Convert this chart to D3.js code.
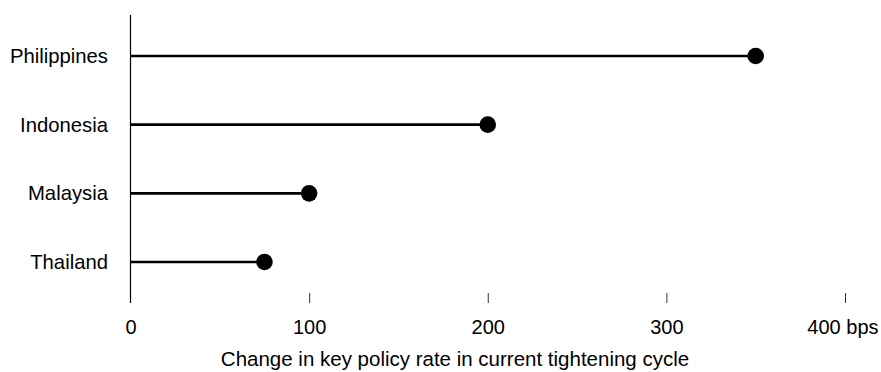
<!DOCTYPE html>
<html><head><meta charset="utf-8">
<script src="https://cdn.jsdelivr.net/npm/d3@7"></script>
<style>body{margin:0;background:#fff;}svg{display:block;font-family:"Liberation Sans",Arial,sans-serif;}</style>
</head><body>
<svg id="c" width="881" height="372"></svg>
<script>
const categories = ["Philippines","Indonesia","Malaysia","Thailand"];
const values = [350, 200, 100, 75];
const tickValues = [0, 100, 200, 300, 400];
const tickLabels = ["0","100","200","300","400 bps"];
const axisTitle = "Change in key policy rate in current tightening cycle";

const svg = d3.select("#c");
const x = d3.scaleLinear().domain([0,400]).range([130.5, 845]);
const y = d3.scalePoint().domain(categories).range([56, 262]);

// vertical baseline
svg.append("line").attr("x1", x(0)).attr("x2", x(0)).attr("y1", 15).attr("y2", 303)
  .attr("stroke", "#000").attr("stroke-width", 1.2);

// x ticks
const xAxis = d3.axisBottom(x).tickValues(tickValues).tickSize(10)
  .tickFormat((d,i) => tickLabels[i]).tickPadding(17);
const gx = svg.append("g").attr("transform", "translate(0,293)").call(xAxis);
gx.select(".domain").remove();
gx.selectAll(".tick line").attr("stroke", "#333").attr("stroke-width", 1);
gx.selectAll(".tick text").attr("font-size", 20).attr("fill", "#000")
  .attr("font-family", '"Liberation Sans", Arial, sans-serif');
gx.selectAll(".tick").filter(d => d === 0).select("line").remove();
gx.selectAll(".tick").filter(d => d === 400).select("text")
  .attr("text-anchor", "end").attr("x", 878 - x(400));

// lollipops
const data = categories.map((c,i) => ({c, v: values[i]}));
svg.selectAll(".stem").data(data).enter().append("line")
  .attr("x1", x(0)).attr("x2", d => x(d.v))
  .attr("y1", d => y(d.c)).attr("y2", d => y(d.c))
  .attr("stroke", "#000").attr("stroke-width", 2.6);
svg.selectAll(".dot").data(data).enter().append("circle")
  .attr("cx", d => x(d.v)).attr("cy", d => y(d.c)).attr("r", 8.3).attr("fill", "#000");

// category labels
svg.selectAll(".lab").data(data).enter().append("text")
  .attr("x", 108).attr("y", d => y(d.c)).attr("dy", "0.35em")
  .attr("text-anchor", "end").attr("font-size", 20.3).attr("fill", "#000")
  .text(d => d.c);

// axis title
svg.append("text").attr("x", 455).attr("y", 366).attr("text-anchor", "middle")
  .attr("font-size", 20.5).attr("fill", "#000").text(axisTitle);
</script>
</body></html>
